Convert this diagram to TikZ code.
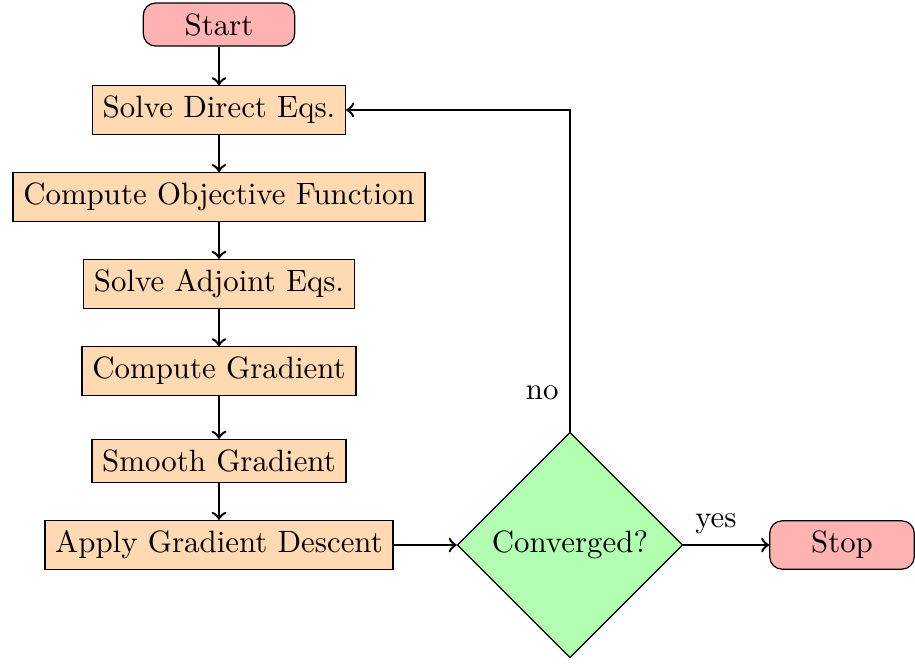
\documentclass[tikz,border=0pt]{standalone}
\usetikzlibrary{shapes.geometric,arrows}
\begin{document}
\begin{tikzpicture}[x=0.324pt,y=-0.324pt,
  procbox/.style={rectangle,draw,fill=orange!30},
  termbox/.style={rectangle,rounded corners,draw,fill=red!30,inner xsep=13.4pt},
  decbox/.style={diamond,aspect=1,draw,fill=green!30},
  flow/.style={->,thick}]
\useasboundingbox (0,0) rectangle (915,664);
\node[termbox] (start) at (219,24.5) {Start};
\node[procbox] (direct) at (219,110) {Solve Direct Eqs.};
\node[procbox] (obj) at (219,197) {Compute Objective Function};
\node[procbox] (adj) at (219,284) {Solve Adjoint Eqs.};
\node[procbox] (grad) at (219,371) {Compute Gradient};
\node[procbox] (smooth) at (219,461) {Smooth Gradient};
\node[procbox] (apply) at (219,545) {Apply Gradient Descent};
\node[decbox] (conv) at (570,545) {Converged?};
\node[termbox] (stop) at (842,545) {Stop};
\draw[flow] (start) -- (direct);
\draw[flow] (direct) -- (obj);
\draw[flow] (obj) -- (adj);
\draw[flow] (adj) -- (grad);
\draw[flow] (grad) -- (smooth);
\draw[flow] (smooth) -- (apply);
\draw[flow] (apply) -- (conv);
\draw[flow] (conv) -- node[pos=0.38,above] (yes) {yes} (stop);
\draw[flow] (conv.north) -- node[pos=0.12,left] (no) {no} (conv.north |- direct.east) -- (direct.east);
\end{tikzpicture}
\end{document}
